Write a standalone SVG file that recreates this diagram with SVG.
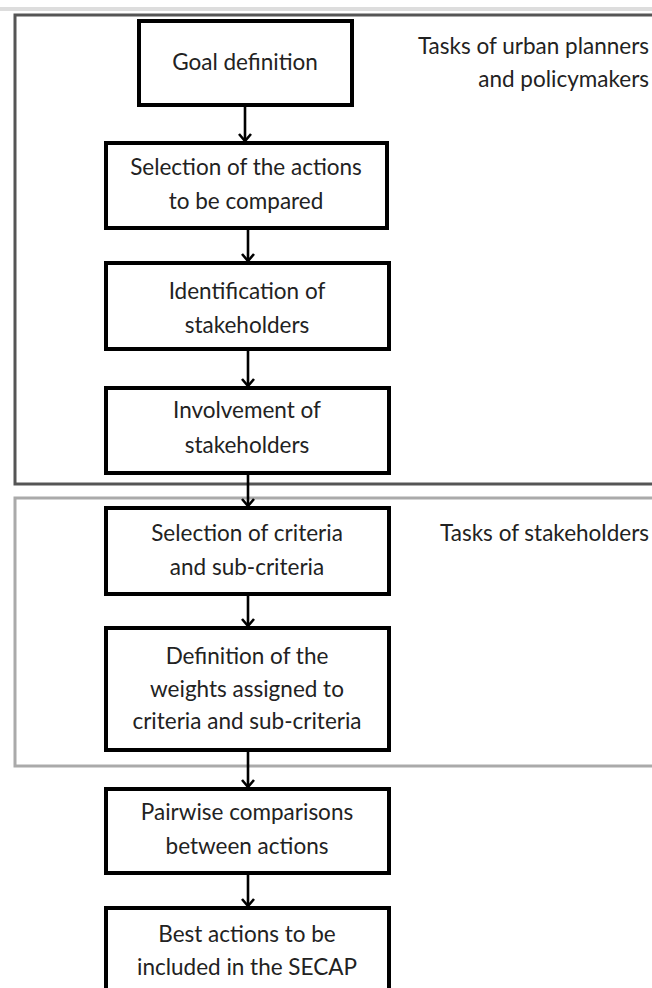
<svg xmlns="http://www.w3.org/2000/svg" width="652" height="988" viewBox="0 0 652 988">
<defs>
<marker id="ah" markerWidth="12" markerHeight="14" refX="10" refY="7" orient="auto" markerUnits="userSpaceOnUse" viewBox="0 0 12 14">
<path d="M3,1 L10,7 L3,13" fill="none" stroke="#000" stroke-width="2.6"/>
</marker>
</defs>
<style>
.box{fill:#fff;stroke:#000;stroke-width:4}
.t{font-family:Lato,"Noto Sans",sans-serif;font-size:22.5px;fill:#222;text-anchor:middle}
.lbl{font-family:Lato,"Noto Sans",sans-serif;font-size:22.5px;fill:#222;text-anchor:end}
.c{stroke:#000;stroke-width:2.6;fill:none;marker-end:url(#ah)}
</style>
<rect width="652" height="988" fill="#fff"/>
<g id="frame1">
<line x1="0" y1="9" x2="652" y2="9" stroke="#ddd" stroke-width="4"/>
<rect x="15" y="15" width="660" height="469" fill="none" stroke="#555" stroke-width="3"/>
<text class="lbl" x="649" y="54">Tasks of urban planners</text>
<text class="lbl" x="649" y="87">and policymakers</text>
</g>
<g id="frame2">
<rect x="15" y="498" width="660" height="268" fill="none" stroke="#aaa" stroke-width="3"/>
<text class="lbl" x="649" y="541">Tasks of stakeholders</text>
</g>
<g id="n1"><rect class="box" x="139" y="21" width="213" height="84"/><text class="t" x="245" y="70">Goal definition</text></g>
<g id="n2"><rect class="box" x="106" y="143" width="281" height="85"/><text class="t" x="246" y="175">Selection of the actions</text><text class="t" x="246" y="209">to be compared</text></g>
<g id="n3"><rect class="box" x="106" y="263" width="283" height="86"/><text class="t" x="247" y="299">Identification of</text><text class="t" x="247" y="333">stakeholders</text></g>
<g id="n4"><rect class="box" x="106" y="388" width="283" height="85"/><text class="t" x="247" y="418">Involvement of</text><text class="t" x="247" y="453">stakeholders</text></g>
<g id="n5"><rect class="box" x="106" y="508" width="283" height="86"/><text class="t" x="247" y="541">Selection of criteria</text><text class="t" x="247" y="575">and sub-criteria</text></g>
<g id="n6"><rect class="box" x="106" y="628" width="283" height="122"/><text class="t" x="247" y="664">Definition of the</text><text class="t" x="247" y="697">weights assigned to</text><text class="t" x="247" y="729">criteria and sub-criteria</text></g>
<g id="n7"><rect class="box" x="106" y="789" width="283" height="84"/><text class="t" x="247" y="820">Pairwise comparisons</text><text class="t" x="247" y="854">between actions</text></g>
<g id="n8"><rect class="box" x="106" y="908" width="283" height="90"/><text class="t" x="247" y="942">Best actions to be</text><text class="t" x="247" y="975">included in the SECAP</text></g>
<g id="connectors">
<line class="c" x1="245" y1="107" x2="245" y2="141"/>
<line class="c" x1="248" y1="230" x2="248" y2="261"/>
<line class="c" x1="248" y1="351" x2="248" y2="386"/>
<line class="c" x1="248" y1="475" x2="248" y2="506"/>
<line class="c" x1="248" y1="596" x2="248" y2="626"/>
<line class="c" x1="248" y1="752" x2="248" y2="787"/>
<line class="c" x1="248" y1="875" x2="248" y2="906"/>
</g>
</svg>
